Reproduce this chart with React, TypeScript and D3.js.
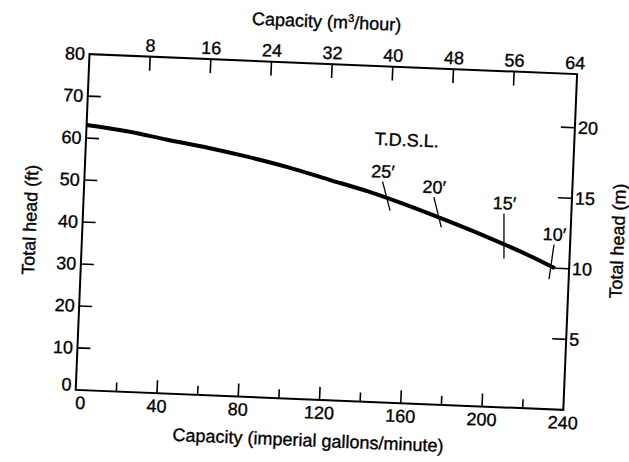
import React from "react";
import * as d3 from "d3";

// ---- data ----
const flowGpm = [0, 20, 40, 60, 80, 100, 120, 140, 160, 180, 200, 220, 233];
const headFt = [63.1, 62.0, 60.4, 58.9, 57.1, 55.0, 52.5, 50.0, 47.0, 43.7, 40.2, 36.4, 33.6];

const tdslLabels = ["25\u2032", "20\u2032", "15\u2032", "10\u2032"];
const tdslGpm = [149, 175, 207.5, 231];
const tdslTitle = "T.D.S.L.";
const tdslTitleGpm = 157.6;
const tdslTitleFt = 61.2;

const gpmMajorTicks = [0, 40, 80, 120, 160, 200, 240];
const gpmMinorTicks = [20, 60, 100, 140, 180, 220];
const ftTicks = [0, 10, 20, 30, 40, 50, 60, 70, 80];
const m3hTicks = [8, 16, 24, 32, 40, 48, 56, 64];
const mTicks = [5, 10, 15, 20];

const titleTop = "Capacity (m";
const titleTopSup = "3";
const titleTopEnd = "/hour)";
const titleBottom = "Capacity (imperial gallons/minute)";
const titleLeft = "Total head (ft)";
const titleRight = "Total head (m)";

// ---- layout / style ----
const W = 629;
const H = 462;
const M = { left: 82.4, right: 570.4, top: 64, bottom: 400 };
const ROT = 2.35;
const CX = 326.4;
const CY = 232;
const FONT = "'Liberation Sans', Arial, Helvetica, sans-serif";
const FS = 18;
// mark geometry: tilt (deg, + = top leans left), length above / below curve
const markTilt = [16.8, 16.3, 2.35, -5.8];
const markUp = [17, 21, 31, 22];
const markDown = [13, 10, 14, 13];

export default function App() {
  const x = d3.scaleLinear().domain([0, 240]).range([M.left, M.right]);
  const xTop = d3.scaleLinear().domain([0, 64.3]).range([M.left, M.right]);
  const y = d3.scaleLinear().domain([0, 80]).range([M.bottom, M.top]);
  const yR = d3.scaleLinear().domain([0, 23.8]).range([M.bottom, M.top]);
  const headAt = d3.scaleLinear().domain(flowGpm).range(headFt);

  const pts = flowGpm.map((g, i) => [g, headFt[i]] as [number, number]);
  const line = d3
    .line<[number, number]>()
    .x((d) => x(d[0]))
    .y((d) => y(d[1]))
    .curve(d3.curveMonotoneX);

  const tickStyle = { stroke: "#000", strokeWidth: 1.6 };
  const textStyle: React.CSSProperties = {
    fontFamily: FONT,
    fontSize: FS,
    fill: "#000",
    stroke: "#000",
    strokeWidth: 0.35,
  };

  return (
    <svg
      width={W}
      height={H}
      style={{ position: "absolute", left: 0, top: 0, background: "#fff" }}
    >
      <rect x={0} y={0} width={W} height={H} fill="#fff" />
      <g transform={`rotate(${ROT}, ${CX}, ${CY})`}>
        {/* frame */}
        <rect
          x={M.left}
          y={M.top}
          width={M.right - M.left}
          height={M.bottom - M.top}
          fill="none"
          stroke="#000"
          strokeWidth={2}
        />
        {/* left ticks */}
        {ftTicks.map((t) => (
          <g key={"lf" + t}>
            {t > 0 && t < 80 && (
              <line x1={M.left} x2={M.left + 13} y1={y(t)} y2={y(t)} {...tickStyle} />
            )}
            <text
              x={M.left - 4.5}
              y={y(t) - (t === 0 ? 5 : 0)}
              textAnchor="end"
              dominantBaseline="central"
              style={textStyle}
            >
              {t}
            </text>
          </g>
        ))}
        {/* right ticks */}
        {mTicks.map((t) => (
          <g key={"rm" + t}>
            <line x1={M.right - 14} x2={M.right} y1={yR(t)} y2={yR(t)} {...tickStyle} />
            <text
              x={M.right + 3}
              y={yR(t)}
              textAnchor="start"
              dominantBaseline="central"
              style={textStyle}
            >
              {t}
            </text>
          </g>
        ))}
        {/* bottom ticks */}
        {gpmMajorTicks.map((t) => (
          <g key={"bg" + t}>
            {t > 0 && t < 240 && (
              <line x1={x(t)} x2={x(t)} y1={M.bottom} y2={M.bottom - 13} {...tickStyle} />
            )}
            <text
              x={x(t) + (t === 0 ? 5 : 0)}
              y={M.bottom + 19}
              textAnchor="middle"
              style={textStyle}
            >
              {t}
            </text>
          </g>
        ))}
        {gpmMinorTicks.map((t) => (
          <line
            key={"bm" + t}
            x1={x(t)}
            x2={x(t)}
            y1={M.bottom}
            y2={M.bottom - 9}
            {...tickStyle}
          />
        ))}
        {/* top ticks */}
        {m3hTicks.map((t) => (
          <g key={"tm" + t}>
            {t < 64 && (
              <line x1={xTop(t)} x2={xTop(t)} y1={M.top} y2={M.top + 14} {...tickStyle} />
            )}
            <text x={xTop(t)} y={M.top - 5} textAnchor="middle" style={textStyle}>
              {t}
            </text>
          </g>
        ))}

        {/* curve */}
        <path d={line(pts) || ""} fill="none" stroke="#000" strokeWidth={4} />

        {/* TDSL marks */}
        {tdslGpm.map((g, i) => {
          const cx = x(g);
          const cy = y(headAt(g));
          const a = (markTilt[i] * Math.PI) / 180;
          const tx = cx - markUp[i] * Math.sin(a);
          const ty = cy - markUp[i] * Math.cos(a);
          const bx = cx + markDown[i] * Math.sin(a);
          const by = cy + markDown[i] * Math.cos(a);
          return (
            <g key={"mk" + i}>
              <line x1={tx} y1={ty} x2={bx} y2={by} stroke="#000" strokeWidth={1.3} />
              <text x={tx} y={ty - 4} textAnchor="middle" style={textStyle}>
                {tdslLabels[i]}
              </text>
            </g>
          );
        })}
        <text x={x(tdslTitleGpm)} y={y(tdslTitleFt)} textAnchor="middle" style={textStyle}>
          {tdslTitle}
        </text>

        {/* titles */}
        <text x={318} y={28} textAnchor="middle" style={textStyle}>
          {titleTop}
          <tspan fontSize={11} dy={-7}>
            {titleTopSup}
          </tspan>
          <tspan dy={7}>{titleTopEnd}</tspan>
        </text>
        <text x={316.5} y={447} textAnchor="middle" style={textStyle}>
          {titleBottom}
        </text>
        <text
          transform={`translate(30, ${CY}) rotate(-90)`}
          textAnchor="middle"
          dominantBaseline="central"
          style={textStyle}
        >
          {titleLeft}
        </text>
        <text
          transform={`translate(618, 229) rotate(-90)`}
          textAnchor="middle"
          dominantBaseline="central"
          style={textStyle}
        >
          {titleRight}
        </text>
      </g>
    </svg>
  );
}
